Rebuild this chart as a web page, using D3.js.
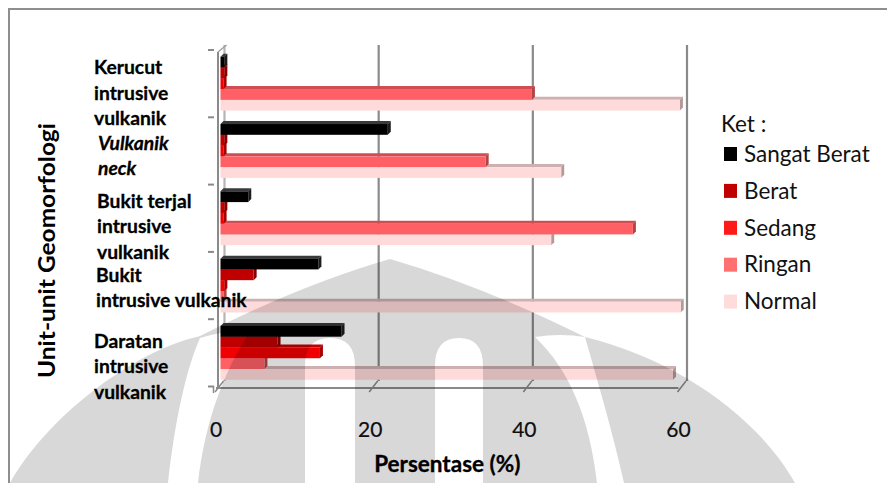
<!DOCTYPE html>
<html><head><meta charset="utf-8">
<script src="https://cdn.jsdelivr.net/npm/d3@7"></script>
<style>html,body{margin:0;padding:0;background:#fff;} svg{display:block;font-family:Lato,"Noto Sans",sans-serif;}</style>
</head><body><svg id="c" width="887" height="483"></svg>
<script>
// ---- data ----
const categories = ["Kerucut intrusive vulkanik","Vulkanik neck","Bukit terjal intrusive vulkanik","Bukit intrusive vulkanik","Daratan intrusive vulkanik"];
const categoryLines = [["Kerucut","intrusive","vulkanik"],["Vulkanik","neck"],["Bukit terjal","intrusive","vulkanik"],["Bukit","intrusive vulkanik"],["Daratan","intrusive","vulkanik"]];
const seriesNames = ["Sangat Berat","Berat","Sedang","Ringan","Normal"];
const sangatBerat = [0.5, 21.7, 3.6, 12.7, 15.7];
const berat       = [0.5, 0.5, 0.5, 4.3, 7.4];
const sedang      = [0.4, 0.4, 0.4, 0.5, 12.9];
const ringan      = [40.4, 34.4, 53.5, 0.4, 5.7];
const normal      = [59.6, 44.2, 42.9, 59.7, 58.7];
const xTicks = [0, 20, 40, 60];
const legendTitle = "Ket :";
const xTitle = "Persentase (%)";
const yTitle = "Unit-unit Geomorfologi";

// ---- style ----
const seriesValues = [sangatBerat, berat, sedang, ringan, normal];
const barColors = ["#000000","#c00000","#f00000","#ff6066","#ffdada"];
const swatchColors = ["#000000","#c00000","#ff1a1a","#ff7070","#ffdcdc"];
const axisColor = "#8a8a8a";
const labelDx = [94, 98, 97, 96, 94];
const labelDy = [16, 11.7, 15, 8.7, 20.5];

const svg = d3.select("#c");

// outer frame
svg.append("path").attr("d","M9,483 V9 H887").attr("fill","none").attr("stroke","#8e8e8e").attr("stroke-width",2);

const xf = d3.scaleLinear().domain([0,60]).range([216,678.5]);   // floor (front) scale
const wallDx = 8.5, wallDy = -7;
const xbar = v => xf(v) + 4.5;
const y = d3.scaleBand().domain(categories).range([50,386.5]).padding(0);
const bw = y.bandwidth();
const inner = d3.scaleBand().domain(seriesNames).range([bw*0.1, bw*0.9]).padding(0);
const pitch = inner.bandwidth();

// back wall gridlines
svg.append("g").selectAll("line").data(xTicks).join("line")
  .attr("x1", d => xf(d)+wallDx).attr("x2", d => xf(d)+wallDx)
  .attr("y1", 52+wallDy).attr("y2", 388+wallDy)
  .attr("stroke", d => d===0 ? "#b5b5b5" : axisColor).attr("stroke-width", 2.2);

// left wall front line + top slant
svg.append("line").attr("x1",218).attr("x2",218).attr("y1",52).attr("y2",388).attr("stroke",axisColor).attr("stroke-width",2);
svg.append("line").attr("x1",218).attr("y1",52).attr("x2",218+wallDx).attr("y2",52+wallDy).attr("stroke","#a0a0a0").attr("stroke-width",1.5);
// floor front line
svg.append("line").attr("x1",xf(0)).attr("x2",xf(60)).attr("y1",388).attr("y2",388).attr("stroke",axisColor).attr("stroke-width",2);
// floor slanted ticks
svg.append("g").selectAll("line").data(xTicks).join("line")
  .attr("x1", d => xf(d)-1).attr("y1", 392).attr("x2", d => xf(d)+wallDx-1).attr("y2", 388+wallDy)
  .attr("stroke", axisColor).attr("stroke-width", 1.5);
// left category ticks
const tickYs = categories.map(c => y(c)).concat([y(categories[categories.length-1]) + bw]);
svg.append("g").selectAll("line").data(tickYs).join("line")
  .attr("x1",208).attr("x2",214).attr("y1",d=>d).attr("y2",d=>d)
  .attr("stroke",axisColor).attr("stroke-width",2);
svg.append("line").attr("x1",213.5).attr("x2",213.5).attr("y1",386).attr("y2",393).attr("stroke",axisColor).attr("stroke-width",1.5);

// bars (3D look)
const dx = 3, dy = 3;
const bars = svg.append("g");
categories.forEach((cat, ci) => {
  for (let sj = seriesNames.length-1; sj >= 0; sj--) {
    const v = seriesValues[sj][ci];
    const x0 = xbar(0), x1 = xbar(v);
    const y0 = y(cat) + inner(seriesNames[sj]);
    const h = pitch;
    const c = d3.color(barColors[sj]);
    const top = sj === 0 ? "#3a3a3a" : c.darker(0.6).formatHex();
    const side = sj === 0 ? "#1c1c1c" : c.darker(1.0).formatHex();
    const g = bars.append("g");
    g.append("polygon").attr("points", [[x0,y0],[x1,y0],[x1+dx,y0-dy],[x0+dx,y0-dy]].join(" ")).attr("fill", top);
    g.append("polygon").attr("points", [[x1,y0],[x1+dx,y0-dy],[x1+dx,y0+h-dy],[x1,y0+h]].join(" ")).attr("fill", side);
    g.append("rect").attr("x", x0).attr("y", y0).attr("width", Math.max(0, x1-x0)).attr("height", h).attr("fill", barColors[sj]);
  }
});

// category labels
categories.forEach((cat, ci) => {
  const lines = categoryLines[ci];
  const mid = y(cat) + bw/2 + labelDy[ci];
  const t = svg.append("text").attr("font-size", 19.3).attr("font-weight", 700).attr("fill","#000")
    .attr("stroke","#000").attr("stroke-width",0.3)
    .attr("font-style", ci === 1 ? "italic" : "normal");
  lines.forEach((ln, li) => {
    t.append("tspan").attr("x", labelDx[ci]).attr("y", mid + (li - (lines.length-1)/2) * 25.5).text(ln);
  });
});

// x tick labels
svg.append("g").selectAll("text").data(xTicks).join("text")
  .attr("x", d => xf(d)).attr("y", 437).attr("text-anchor","middle")
  .attr("font-size", 21).attr("fill","#111").attr("stroke","#111").attr("stroke-width",0.2).text(d => d);

// axis titles
svg.append("text").attr("x", (xf(0)+xf(60))/2 + 0).attr("y", 472).attr("text-anchor","middle")
  .attr("font-size", 22.5).attr("font-weight",700).attr("fill","#000").attr("stroke","#000").attr("stroke-width",0.3).text(xTitle);
svg.append("text").attr("transform","translate(55,250.5) rotate(-90)").attr("text-anchor","middle")
  .attr("font-size", 22).attr("font-weight",700).attr("fill","#000")
  .attr("textLength", 255).attr("lengthAdjust","spacingAndGlyphs").text(yTitle);

// legend
svg.append("text").attr("x",721).attr("y",132).attr("font-size",22.5).attr("fill","#111").text(legendTitle);
const lg = svg.append("g").selectAll("g").data(seriesNames).join("g")
  .attr("transform", (d,i) => `translate(0,${161.7 + i*36.9})`);
lg.append("rect").attr("x",724).attr("y",-14.7).attr("width",13).attr("height",14).attr("fill",(d,i)=>swatchColors[i]);
lg.append("text").attr("x",744).attr("y",0).attr("font-size",22.5).attr("fill","#111").text(d=>d);

// faint background watermark (emblem), overlaid
const defs = svg.append("defs");
const mask = defs.append("mask").attr("id","wm").attr("maskUnits","userSpaceOnUse").attr("x",0).attr("y",0).attr("width",887).attr("height",483);
mask.append("rect").attr("width",887).attr("height",483).attr("fill","black");
mask.append("path").attr("fill","white")
  .attr("d","M10,483 C45,420 130,352 200,336 Q300,285 390,259 Q480,285 585,337 C680,360 760,420 795,483 Z");
mask.append("path").attr("fill","black")
  .attr("d","M200,338 Q225,330 250,331 C225,370 205,420 198,483 L168,483 C175,420 186,370 200,338 Z");
mask.append("path").attr("fill","black")
  .attr("d","M535,337 Q560,333 585,337 C600,390 612,430 624,483 L597,483 C590,420 570,370 535,337 Z");
mask.append("path").attr("fill","black")
  .attr("d","M305,483 V366 Q305,338 330,338 Q355,338 355,366 V483 Z");
mask.append("path").attr("fill","black")
  .attr("d","M435,483 V366 Q435,338 459,338 Q483,338 483,366 V483 Z");
svg.append("rect").attr("width",887).attr("height",483).attr("fill","#000").attr("opacity",0.15).attr("mask","url(#wm)");
</script>
</body></html>
